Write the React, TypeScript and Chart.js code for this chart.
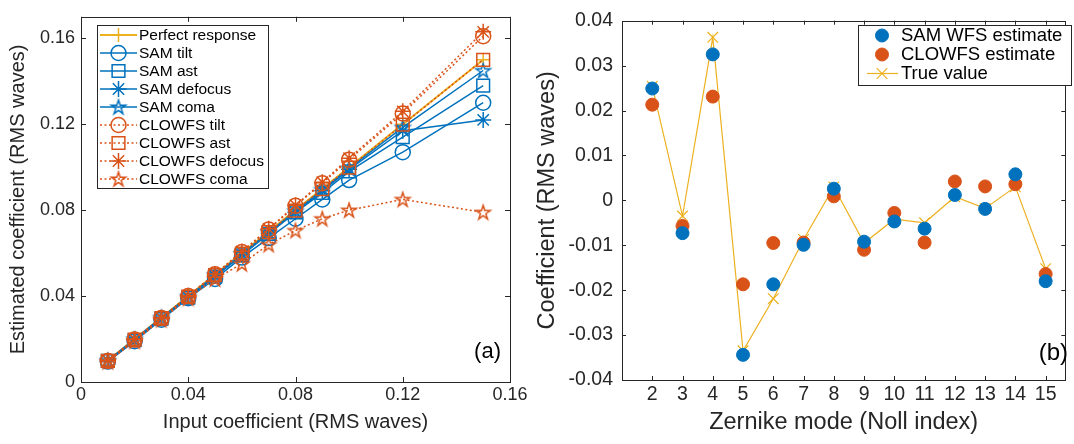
import React, { useEffect, useRef } from 'react';
import { Chart, registerables } from 'chart.js';
import { drawPoint } from 'chart.js/helpers';

Chart.register(...registerables);

const FONT = "'Liberation Sans', Arial, Helvetica, sans-serif";
const BLUE = '#0072BD';
const ORANGE = '#D95319';
const YELLOW = '#EDB120';
const AXIS = '#262626';

// ---------- Panel (a) data ----------
const inputCoeff = [0.01, 0.02, 0.03, 0.04, 0.05, 0.06, 0.07, 0.08, 0.09, 0.10, 0.12, 0.15];
const perfectResponse = [0.01, 0.02, 0.03, 0.04, 0.05, 0.06, 0.07, 0.08, 0.09, 0.10, 0.12, 0.15];
const samTilt = [0.0095, 0.019, 0.029, 0.039, 0.048, 0.058, 0.067, 0.076, 0.085, 0.094, 0.107, 0.130];
const samAst = [0.0098, 0.0195, 0.0295, 0.0393, 0.049, 0.059, 0.069, 0.079, 0.088, 0.098, 0.114, 0.138];
const samDefocus = [0.0099, 0.0198, 0.0297, 0.0395, 0.0493, 0.0592, 0.0692, 0.079, 0.089, 0.099, 0.117, 0.122];
const samComa = [0.01, 0.02, 0.03, 0.0398, 0.0497, 0.0597, 0.0697, 0.0795, 0.0895, 0.0995, 0.1185, 0.145];
const clowfsTilt = [0.0098, 0.0198, 0.0298, 0.04, 0.0502, 0.0605, 0.071, 0.082, 0.0925, 0.1035, 0.125, 0.161];
const clowfsAst = [0.0098, 0.0197, 0.0297, 0.0397, 0.0497, 0.0598, 0.0698, 0.0798, 0.0898, 0.0998, 0.1198, 0.150];
const clowfsDefocus = [0.0099, 0.0199, 0.0299, 0.0401, 0.0503, 0.0608, 0.0713, 0.0823, 0.093, 0.1042, 0.126, 0.163];
const clowfsComa = [0.0095, 0.019, 0.029, 0.039, 0.048, 0.055, 0.064, 0.0705, 0.076, 0.080, 0.085, 0.079];
const leftXTicks = [0, 0.04, 0.08, 0.12, 0.16];
const leftYTicks = [0, 0.04, 0.08, 0.12, 0.16];

// ---------- Panel (b) data ----------
const nollIndex = [2, 3, 4, 5, 6, 7, 8, 9, 10, 11, 12, 13, 14, 15];
const samWfs = [0.0249, -0.0073, 0.0325, -0.0344, -0.0187, -0.0099, 0.0026, -0.0092, -0.0047, -0.0063, 0.0012, -0.0019, 0.0058, -0.0180];
const clowfs = [0.0213, -0.0057, 0.0231, -0.0187, -0.0095, -0.0094, 0.0009, -0.0110, -0.0028, -0.0094, 0.0042, 0.0031, 0.0036, -0.0164];
const trueValue = [0.0254, -0.0035, 0.0363, -0.0335, -0.0219, -0.0087, 0.0030, -0.0095, -0.0042, -0.0050, 0.0008, -0.0018, 0.0030, -0.0152];
const rightXTicks = [2, 3, 4, 5, 6, 7, 8, 9, 10, 11, 12, 13, 14, 15];
const rightYTicks = [-0.04, -0.03, -0.02, -0.01, 0, 0.01, 0.02, 0.03, 0.04];

function makePentagram(color: string, r: number, lw: number): HTMLCanvasElement {
  const size = Math.ceil(2 * r + 2 * lw + 2);
  const c = document.createElement('canvas');
  c.width = size;
  c.height = size;
  const ctx = c.getContext('2d')!;
  ctx.strokeStyle = color;
  ctx.lineWidth = lw;
  ctx.lineJoin = 'miter';
  const cx = size / 2;
  const cy = size / 2 + r * 0.08;
  const inner = r * 0.382;
  ctx.beginPath();
  for (let i = 0; i < 10; i++) {
    const rad = i % 2 === 0 ? r : inner;
    const a = -Math.PI / 2 + (i * Math.PI) / 5;
    const x = cx + rad * Math.cos(a);
    const y = cy + rad * Math.sin(a);
    if (i === 0) ctx.moveTo(x, y);
    else ctx.lineTo(x, y);
  }
  ctx.closePath();
  ctx.stroke();
  return c;
}

type Series = {
  label: string;
  values: number[];
  color: string;
  dash: number[];
  lineWidth: number;
  pointStyle: any;
  radius: number;
  pointBorderWidth: number;
  fill: string;
  showLine: boolean;
};

function drawLegend(
  ctx: CanvasRenderingContext2D,
  box: { x: number; y: number; w: number; h: number },
  items: Series[],
  o: { y0: number; dy: number; lineX0: number; lineX1: number; markX: number; textX: number; font: string }
) {
  ctx.save();
  ctx.fillStyle = '#fff';
  ctx.fillRect(box.x, box.y, box.w, box.h);
  ctx.strokeStyle = AXIS;
  ctx.lineWidth = 1;
  ctx.strokeRect(box.x + 0.5, box.y + 0.5, box.w, box.h);
  items.forEach((it, i) => {
    const y = o.y0 + i * o.dy;
    if (it.showLine) {
      ctx.save();
      ctx.strokeStyle = it.color;
      ctx.lineWidth = it.lineWidth;
      ctx.setLineDash(it.dash);
      ctx.beginPath();
      ctx.moveTo(o.lineX0, y);
      ctx.lineTo(o.lineX1, y);
      ctx.stroke();
      ctx.restore();
    }
    ctx.save();
    ctx.strokeStyle = it.color;
    ctx.fillStyle = it.fill;
    ctx.lineWidth = it.pointBorderWidth;
    ctx.setLineDash([]);
    drawPoint(ctx, { pointStyle: it.pointStyle, radius: it.radius, rotation: 0, borderWidth: it.pointBorderWidth } as any, o.markX, y);
    ctx.restore();
    ctx.fillStyle = '#000';
    ctx.font = o.font;
    ctx.textAlign = 'left';
    ctx.textBaseline = 'middle';
    ctx.fillText(it.label, o.textX, y + 0.5);
  });
  ctx.restore();
}

function frameTicks(chart: any, len: number) {
  const { ctx, chartArea: a } = chart;
  const xs = chart.scales.x;
  const ys = chart.scales.y;
  ctx.save();
  ctx.strokeStyle = AXIS;
  ctx.lineWidth = 1;
  ctx.beginPath();
  xs.ticks.forEach((t: any) => {
    const px = Math.round(xs.getPixelForValue(t.value)) + 0.5;
    ctx.moveTo(px, a.bottom);
    ctx.lineTo(px, a.bottom - len);
    ctx.moveTo(px, a.top);
    ctx.lineTo(px, a.top + len);
  });
  ys.ticks.forEach((t: any) => {
    const py = Math.round(ys.getPixelForValue(t.value)) + 0.5;
    ctx.moveTo(a.left, py);
    ctx.lineTo(a.left + len, py);
    ctx.moveTo(a.right, py);
    ctx.lineTo(a.right - len, py);
  });
  ctx.stroke();
  ctx.strokeRect(Math.round(a.left) + 0.5, Math.round(a.top) + 0.5, Math.round(a.right - a.left), Math.round(a.bottom - a.top));
  ctx.restore();
}

function toDataset(s: Series, order: number) {
  return {
    label: s.label,
    data: nollOrInput(s),
    borderColor: s.color,
    backgroundColor: 'rgba(0,0,0,0)',
    borderWidth: s.lineWidth,
    borderDash: s.dash,
    showLine: s.showLine,
    pointStyle: s.pointStyle,
    pointRadius: s.radius,
    pointHoverRadius: s.radius,
    pointBorderColor: s.color,
    pointBackgroundColor: s.fill,
    pointBorderWidth: s.pointBorderWidth,
    tension: 0,
    order,
  };
}

function nollOrInput(s: Series) {
  const xs = s.values.length === inputCoeff.length ? inputCoeff : nollIndex;
  return s.values.map((v, i) => ({ x: xs[i], y: v }));
}

const TRANSPARENT = 'rgba(0,0,0,0)';

function LeftPanel() {
  const ref = useRef<HTMLCanvasElement>(null);
  useEffect(() => {
    const starBlue = makePentagram(BLUE, 7.5, 1.5);
    const starOrange = makePentagram(ORANGE, 7.5, 1.5);
    const dot = [2, 2.5];
    const series: Series[] = [
      { label: 'Perfect response', values: perfectResponse, color: YELLOW, dash: [], lineWidth: 2, pointStyle: 'cross', radius: 7, pointBorderWidth: 1.5, fill: TRANSPARENT, showLine: true },
      { label: 'SAM tilt', values: samTilt, color: BLUE, dash: [], lineWidth: 1.5, pointStyle: 'circle', radius: 7.5, pointBorderWidth: 1.5, fill: TRANSPARENT, showLine: true },
      { label: 'SAM ast', values: samAst, color: BLUE, dash: [], lineWidth: 1.5, pointStyle: 'rect', radius: 9, pointBorderWidth: 1.5, fill: TRANSPARENT, showLine: true },
      { label: 'SAM defocus', values: samDefocus, color: BLUE, dash: [], lineWidth: 1.5, pointStyle: 'star', radius: 8, pointBorderWidth: 1.5, fill: TRANSPARENT, showLine: true },
      { label: 'SAM coma', values: samComa, color: BLUE, dash: [], lineWidth: 1.5, pointStyle: starBlue, radius: 7.5, pointBorderWidth: 1.5, fill: TRANSPARENT, showLine: true },
      { label: 'CLOWFS tilt', values: clowfsTilt, color: ORANGE, dash: dot, lineWidth: 1.5, pointStyle: 'circle', radius: 7.5, pointBorderWidth: 1.5, fill: TRANSPARENT, showLine: true },
      { label: 'CLOWFS ast', values: clowfsAst, color: ORANGE, dash: dot, lineWidth: 1.5, pointStyle: 'rect', radius: 9, pointBorderWidth: 1.5, fill: TRANSPARENT, showLine: true },
      { label: 'CLOWFS defocus', values: clowfsDefocus, color: ORANGE, dash: dot, lineWidth: 1.5, pointStyle: 'star', radius: 8, pointBorderWidth: 1.5, fill: TRANSPARENT, showLine: true },
      { label: 'CLOWFS coma', values: clowfsComa, color: ORANGE, dash: dot, lineWidth: 1.5, pointStyle: starOrange, radius: 7.5, pointBorderWidth: 1.5, fill: TRANSPARENT, showLine: true },
    ];
    const n = series.length;
    const chart = new Chart(ref.current!, {
      type: 'line',
      data: { datasets: series.map((s, i) => toDataset(s, n - i)) as any },
      options: {
        animation: false,
        responsive: false,
        layout: { padding: { left: 0, top: 15, right: 20, bottom: 0 } },
        plugins: { legend: { display: false }, tooltip: { enabled: false } },
        scales: {
          x: {
            type: 'linear',
            min: 0,
            max: 0.16,
            grid: { display: false, drawTicks: false },
            border: { display: false },
            afterBuildTicks: (s: any) => { s.ticks = leftXTicks.map((v) => ({ value: v })); },
            afterFit: (s: any) => { s.height = 62; },
            ticks: { color: AXIS, font: { family: FONT, size: 18 }, padding: 2, maxRotation: 0, autoSkip: false, callback: (v: any) => String(Number(v)) },
            title: { display: true, text: 'Input coefficient (RMS waves)', color: AXIS, font: { family: FONT, size: 20 }, padding: { top: 0, bottom: 10 } },
          },
          y: {
            type: 'linear',
            min: 0,
            max: 0.17,
            grid: { display: false, drawTicks: false },
            border: { display: false },
            afterBuildTicks: (s: any) => { s.ticks = leftYTicks.map((v) => ({ value: v })); },
            afterFit: (s: any) => { s.width = 81; },
            ticks: { color: AXIS, font: { family: FONT, size: 18 }, padding: 6, autoSkip: false, callback: (v: any) => String(Number(v)) },
            title: { display: true, text: 'Estimated coefficient (RMS waves)', color: AXIS, font: { family: FONT, size: 20 }, padding: { top: 6, bottom: 0 } },
          },
        },
      },
      plugins: [
        {
          id: 'matlabFrameA',
          afterDraw(c: any) {
            frameTicks(c, 5);
            drawLegend(c.ctx, { x: 97, y: 25, w: 171, h: 163 }, series, {
              y0: 35, dy: 18, lineX0: 100, lineX1: 137, markX: 118.5, textX: 139, font: `15.5px ${FONT}`,
            });
            const ctx = c.ctx;
            ctx.save();
            ctx.fillStyle = '#000';
            ctx.font = `22px ${FONT}`;
            ctx.textAlign = 'right';
            ctx.textBaseline = 'middle';
            ctx.fillText('(a)', 501, 352);
            ctx.restore();
          },
        },
      ],
    });
    return () => chart.destroy();
  }, []);
  return <canvas ref={ref} width={530} height={444} style={{ position: 'absolute', left: 0, top: 0 }} />;
}

function RightPanel() {
  const ref = useRef<HTMLCanvasElement>(null);
  useEffect(() => {
    const series: Series[] = [
      { label: 'SAM WFS estimate', values: samWfs, color: BLUE, dash: [], lineWidth: 0, pointStyle: 'circle', radius: 6.5, pointBorderWidth: 1, fill: BLUE, showLine: false },
      { label: 'CLOWFS estimate', values: clowfs, color: ORANGE, dash: [], lineWidth: 0, pointStyle: 'circle', radius: 6.5, pointBorderWidth: 1, fill: ORANGE, showLine: false },
      { label: 'True value', values: trueValue, color: YELLOW, dash: [], lineWidth: 1.2, pointStyle: 'crossRot', radius: 7.5, pointBorderWidth: 1.2, fill: TRANSPARENT, showLine: true },
    ];
    const chart = new Chart(ref.current!, {
      type: 'line',
      data: { datasets: series.map((s, i) => toDataset(s, i)) as any },
      options: {
        animation: false,
        responsive: false,
        layout: { padding: { left: 0, top: 15, right: 2, bottom: 0 } },
        plugins: { legend: { display: false }, tooltip: { enabled: false } },
        scales: {
          x: {
            type: 'linear',
            min: 1,
            max: 15.65,
            grid: { display: false, drawTicks: false },
            border: { display: false },
            afterBuildTicks: (s: any) => { s.ticks = rightXTicks.map((v) => ({ value: v })); },
            afterFit: (s: any) => { s.height = 64; },
            ticks: { color: AXIS, font: { family: FONT, size: 19.5 }, padding: 3, maxRotation: 0, autoSkip: false, callback: (v: any) => String(Number(v)) },
            title: { display: true, text: 'Zernike mode (Noll index)', color: AXIS, font: { family: FONT, size: 23.5 }, padding: { top: 0, bottom: 7 } },
          },
          y: {
            type: 'linear',
            min: -0.04,
            max: 0.04,
            grid: { display: false, drawTicks: false },
            border: { display: false },
            afterBuildTicks: (s: any) => { s.ticks = rightYTicks.map((v) => ({ value: v })); },
            afterFit: (s: any) => { s.width = 92; },
            ticks: { color: AXIS, font: { family: FONT, size: 19.5 }, padding: 9, autoSkip: false, callback: (v: any) => String(Math.round(Number(v) * 100) / 100) },
            title: { display: true, text: 'Coefficient (RMS waves)', color: AXIS, font: { family: FONT, size: 23.5 }, padding: { top: 3, bottom: 0 } },
          },
        },
      },
      plugins: [
        {
          id: 'matlabFrameB',
          afterDraw(c: any) {
            frameTicks(c, 4);
            drawLegend(c.ctx, { x: 328, y: 25, w: 213, h: 60 }, series, {
              y0: 35.5, dy: 19, lineX0: 337, lineX1: 368, markX: 352, textX: 371, font: `18.5px ${FONT}`,
            });
            const ctx = c.ctx;
            ctx.save();
            ctx.fillStyle = '#000';
            ctx.font = `24px ${FONT}`;
            ctx.textAlign = 'right';
            ctx.textBaseline = 'middle';
            ctx.fillText('(b)', 538, 353);
            ctx.restore();
          },
        },
      ],
    });
    return () => chart.destroy();
  }, []);
  return <canvas ref={ref} width={544} height={444} style={{ position: 'absolute', left: 530, top: 0 }} />;
}

export default function App() {
  return (
    <div style={{ position: 'fixed', left: 0, top: 0, width: 1074, height: 444, background: '#fff', overflow: 'hidden' }}>
      <LeftPanel />
      <RightPanel />
    </div>
  );
}
